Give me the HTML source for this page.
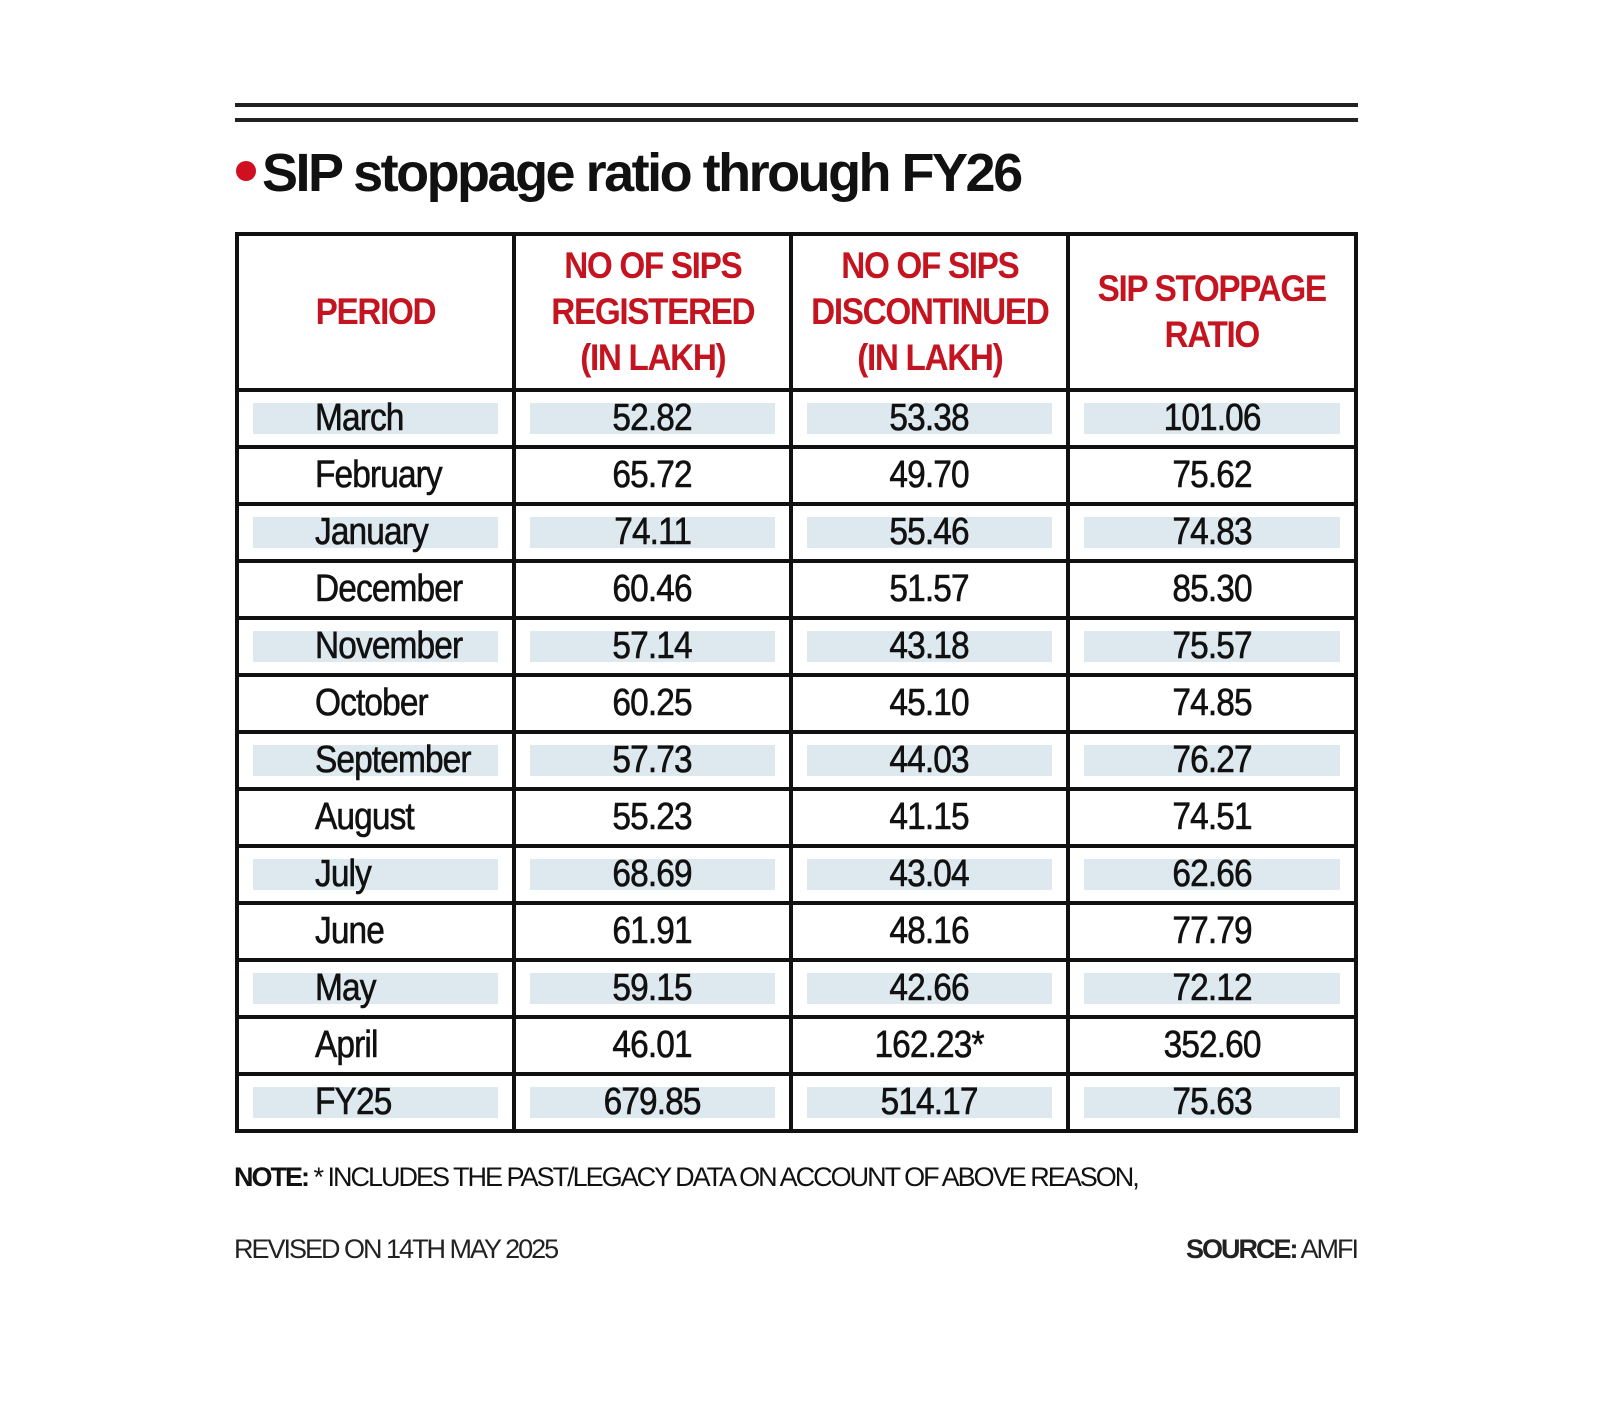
<!DOCTYPE html>
<html><head><style>
body{margin:0;width:1600px;height:1408px;background:#fff;position:relative;overflow:hidden;font-family:"Liberation Sans Narrow","Liberation Sans",sans-serif;}
.a{position:absolute}
.line{position:absolute;left:235px;width:1123px;height:4px;background:#222}
.title{left:236px;top:142px;font-size:54px;font-weight:bold;letter-spacing:-2.5px;color:#111;white-space:nowrap}
.dot{display:inline-block;width:20px;height:20px;border-radius:50%;background:#d01020;margin-right:6px;vertical-align:middle;position:relative;top:-6px}
table{position:absolute;left:235px;top:232px;border-collapse:collapse;width:1123px}
td,th{border:4px solid #111;padding:0;text-align:center;position:relative}
th{height:152px;color:#c41420;font-size:37px;font-weight:bold;line-height:46px;letter-spacing:-1.5px}
th span{display:inline-block;transform:scaleX(0.9)}
td{height:53px;font-size:38px;color:#111;letter-spacing:-1px}
td span,td.q{display:inline-block;transform:scaleX(0.88);-webkit-text-stroke:0.6px #111}
td.p{text-align:left;padding-left:76px}
td.p span{transform-origin:left center}
tr.s td .b{position:absolute;left:14px;right:14px;top:11px;bottom:11px;background:#dde8ef;z-index:-1}
td span{position:relative}
.note{left:234px;top:1162px;font-size:27px;color:#111;letter-spacing:-2px;white-space:nowrap}
.rev{left:234px;top:1234px;font-size:27px;color:#222;letter-spacing:-2px}
.src{left:1186px;top:1234px;font-size:27px;color:#222;letter-spacing:-2px}
</style></head><body>
<div class="line" style="top:103px"></div>
<div class="line" style="top:118px"></div>
<div class="a title"><span class="dot"></span>SIP stoppage ratio through FY26</div>
<table>
<tr><th style="width:273px"><span>PERIOD</span></th><th style="width:273px"><span>NO OF SIPS<br>REGISTERED<br>(IN LAKH)</span></th><th style="width:273px"><span>NO OF SIPS<br>DISCONTINUED<br>(IN LAKH)</span></th><th><span>SIP STOPPAGE<br>RATIO</span></th></tr>
<tr class="s"><td class="p"><i class="b"></i><span>March</span></td><td><i class="b"></i><span>52.82</span></td><td><i class="b"></i><span>53.38</span></td><td><i class="b"></i><span>101.06</span></td></tr>
<tr><td class="p"><span>February</span></td><td><span>65.72</span></td><td><span>49.70</span></td><td><span>75.62</span></td></tr>
<tr class="s"><td class="p"><i class="b"></i><span>January</span></td><td><i class="b"></i><span>74.11</span></td><td><i class="b"></i><span>55.46</span></td><td><i class="b"></i><span>74.83</span></td></tr>
<tr><td class="p"><span>December</span></td><td><span>60.46</span></td><td><span>51.57</span></td><td><span>85.30</span></td></tr>
<tr class="s"><td class="p"><i class="b"></i><span>November</span></td><td><i class="b"></i><span>57.14</span></td><td><i class="b"></i><span>43.18</span></td><td><i class="b"></i><span>75.57</span></td></tr>
<tr><td class="p"><span>October</span></td><td><span>60.25</span></td><td><span>45.10</span></td><td><span>74.85</span></td></tr>
<tr class="s"><td class="p"><i class="b"></i><span>September</span></td><td><i class="b"></i><span>57.73</span></td><td><i class="b"></i><span>44.03</span></td><td><i class="b"></i><span>76.27</span></td></tr>
<tr><td class="p"><span>August</span></td><td><span>55.23</span></td><td><span>41.15</span></td><td><span>74.51</span></td></tr>
<tr class="s"><td class="p"><i class="b"></i><span>July</span></td><td><i class="b"></i><span>68.69</span></td><td><i class="b"></i><span>43.04</span></td><td><i class="b"></i><span>62.66</span></td></tr>
<tr><td class="p"><span>June</span></td><td><span>61.91</span></td><td><span>48.16</span></td><td><span>77.79</span></td></tr>
<tr class="s"><td class="p"><i class="b"></i><span>May</span></td><td><i class="b"></i><span>59.15</span></td><td><i class="b"></i><span>42.66</span></td><td><i class="b"></i><span>72.12</span></td></tr>
<tr><td class="p"><span>April</span></td><td><span>46.01</span></td><td><span>162.23*</span></td><td><span>352.60</span></td></tr>
<tr class="s"><td class="p"><i class="b"></i><span>FY25</span></td><td><i class="b"></i><span>679.85</span></td><td><i class="b"></i><span>514.17</span></td><td><i class="b"></i><span>75.63</span></td></tr>
</table>
<div class="a note"><b>NOTE:</b> * INCLUDES THE PAST/LEGACY DATA ON ACCOUNT OF ABOVE REASON,</div>
<div class="a rev">REVISED ON 14TH MAY 2025</div>
<div class="a src"><b>SOURCE:</b> AMFI</div>
</body></html>
